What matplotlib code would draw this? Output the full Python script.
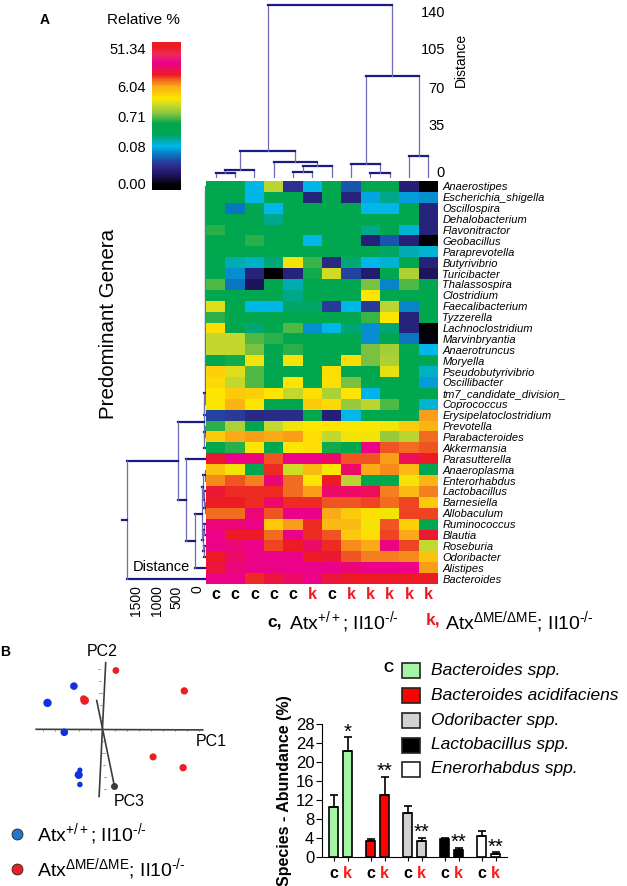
"""Three-panel microbiome figure: clustered heatmap (A), PCoA (B), bar chart (C)."""

import matplotlib
matplotlib.use("Agg")
import matplotlib.pyplot as plt
import numpy as np
from matplotlib.colors import LinearSegmentedColormap
from matplotlib.patches import Rectangle

W, H = 627, 886
FONT = "Liberation Sans"

plt.rcParams.update({
    "font.family": [FONT, "DejaVu Sans"],
    "mathtext.fontset": "custom",
    "mathtext.rm": FONT,
    "mathtext.it": f"{FONT}:italic",
    "mathtext.bf": f"{FONT}:bold",
    "mathtext.default": "regular",
})

# ---------------------------------------------------------------------------
# Data
# ---------------------------------------------------------------------------

GENERA = [
    "Anaerostipes", "Escherichia_shigella", "Oscillospira", "Dehalobacterium",
    "Flavonitractor", "Geobacillus", "Paraprevotella", "Butyrivibrio",
    "Turicibacter", "Thalassospira", "Clostridium", "Faecalibacterium",
    "Tyzzerella", "Lachnoclostridium", "Marvinbryantia", "Anaerotruncus",
    "Moryella", "Pseudobutyrivibrio", "Oscillibacter", "tm7_candidate_division_",
    "Coprococcus", "Erysipelatoclostridium", "Prevotella", "Parabacteroides",
    "Akkermansia", "Parasutterella", "Anaeroplasma", "Enterorhabdus",
    "Lactobacillus", "Barnesiella", "Allobaculum", "Ruminococcus", "Blautia",
    "Roseburia", "Odoribacter", "Alistipes", "Bacteroides",
]
SAMPLES = ["c", "c", "c", "c", "c", "k", "c", "k", "k", "k", "k", "k"]

# position on the colour bar, 0 (bottom) to 100 (top)
HEAT = [
    [42, 42, 30, 56, 17, 30, 42, 21, 42, 42, 13, 2],
    [42, 38, 30, 42, 42, 14, 42, 14, 28, 35, 27, 26],
    [42, 24, 42, 30, 42, 42, 42, 42, 30, 30, 42, 14],
    [42, 42, 42, 35, 42, 42, 42, 42, 42, 42, 42, 14],
    [47, 42, 42, 42, 42, 42, 42, 42, 35, 42, 31, 14],
    [42, 42, 47, 42, 42, 30, 38, 42, 13, 21, 13, 2],
    [42, 42, 42, 42, 42, 42, 42, 42, 42, 37, 33, 31],
    [42, 33, 32, 36, 61, 48, 15, 36, 30, 31, 42, 14],
    [40, 26, 14, 2, 14, 46, 58, 19, 12, 42, 55, 10],
    [49, 24, 10, 42, 33, 42, 42, 42, 51, 25, 49, 39],
    [42, 42, 42, 42, 35, 42, 39, 42, 62, 42, 42, 42],
    [59, 42, 30, 30, 37, 37, 18, 30, 18, 56, 25, 42],
    [47, 42, 41, 42, 42, 42, 42, 41, 48, 62, 14, 42],
    [63, 40, 36, 42, 49, 26, 30, 36, 26, 36, 14, 2],
    [57, 57, 49, 47, 42, 42, 42, 42, 26, 42, 24, 4],
    [57, 57, 51, 42, 47, 42, 42, 42, 51, 54, 45, 30],
    [42, 46, 61, 40, 61, 42, 42, 63, 51, 55, 42, 38],
    [65, 59, 49, 42, 42, 42, 63, 42, 42, 60, 42, 32],
    [64, 57, 49, 42, 62, 45, 63, 51, 42, 42, 42, 27],
    [62, 66, 65, 62, 57, 63, 55, 62, 29, 42, 42, 42],
    [62, 69, 62, 42, 42, 66, 64, 53, 56, 49, 42, 31],
    [19, 18, 15, 16, 16, 42, 13, 30, 42, 42, 45, 71],
    [47, 55, 42, 57, 61, 62, 62, 62, 62, 61, 66, 69],
    [66, 70, 71, 70, 71, 63, 57, 61, 61, 53, 56, 74],
    [42, 47, 62, 42, 62, 63, 46, 42, 86, 75, 74, 75],
    [79, 86, 84, 75, 86, 86, 83, 75, 75, 71, 82, 78],
    [67, 61, 42, 77, 58, 68, 62, 83, 70, 72, 68, 44],
    [72, 75, 73, 84, 74, 62, 78, 56, 42, 45, 61, 69],
    [79, 77, 77, 77, 74, 71, 83, 83, 82, 73, 68, 73],
    [78, 78, 77, 83, 77, 77, 75, 75, 76, 74, 76, 66],
    [74, 74, 84, 75, 86, 86, 70, 66, 63, 61, 76, 76],
    [84, 84, 86, 66, 71, 77, 68, 68, 61, 75, 65, 42],
    [86, 78, 78, 74, 86, 77, 75, 66, 63, 76, 70, 79],
    [86, 84, 86, 76, 78, 83, 77, 72, 70, 85, 76, 57],
    [78, 83, 86, 86, 86, 78, 79, 75, 73, 73, 72, 67],
    [80, 84, 86, 86, 86, 86, 86, 84, 86, 86, 86, 71],
    [86, 86, 77, 80, 83, 86, 80, 78, 78, 78, 78, 78],
]

CBAR_LABELS = ["51.34", "6.04", "0.71", "0.08", "0.00"]

# merges as (node a, node b, distance); new nodes are numbered after the leaves
TOP_MERGES = [
    (0, 1, 3.3), (12, 2, 6), (4, 5, 4.4), (14, 6, 10), (3, 15, 13), (13, 16, 23),
    (8, 9, 3.5), (7, 18, 11), (10, 11, 18.4), (19, 20, 88.6), (17, 21, 151),
]
TOP_TICKS = [3.5, 44.7, 77.2, 111.4, 143.9]
TOP_TICK_LABELS = ["0", "35", "70", "105", "140"]

ROW_CHAIN = [
    (0, 1, -192), (37, 2, -192), (38, 3, -191), (39, 4, -191), (40, 5, -191),
    (41, 6, -190), (42, 7, -190), (43, 8, -190), (44, 9, -189), (45, 10, -189),
    (46, 11, -189), (47, 12, -188), (48, 13, -188), (49, 14, -188), (50, 15, -187),
    (51, 16, -187), (52, 17, -187), (53, 18, -186), (54, 19, -186), (55, 20, -186),
]
ROW_MERGES = ROW_CHAIN + [
    (56, 21, -180), (22, 23, -185), (58, 24, -178), (57, 59, -170),
    (26, 27, -188), (29, 30, -188), (28, 62, -180), (61, 63, -160),
    (31, 32, -180), (33, 34, -175), (65, 66, -160), (64, 67, -116),
    (68, 35, 50), (25, 69, 280), (60, 70, 470), (71, 36, 1735),
]
ROW_TICKS = [0, 500, 1000, 1500]

BLUE_PC1 = [-4.6, -2.4, -3.2, -1.9, -2.0, -1.9]
BLUE_PC2 = [2.2, 3.6, -0.25, -3.4, -3.8, -4.6]
RED_PC1 = [1.1, 6.8, -1.6, -1.5, 4.2, 6.7]
RED_PC2 = [4.9, 3.2, 2.55, 2.4, -2.3, -3.2]

SPECIES = ["Bacteroides spp.", "Bacteroides acidifaciens", "Odoribacter spp.",
           "Lactobacillus spp.", "Enerorhabdus spp."]
CTRL_MEAN = [10.5, 3.4, 9.4, 3.8, 4.4]
CTRL_ERR = [2.5, 0.5, 1.4, 0.3, 1.2]
KO_MEAN = [22.4, 13.0, 3.4, 1.5, 0.7]
KO_ERR = [2.8, 3.9, 0.7, 0.5, 0.35]
KO_STARS = ["*", "**", "**", "**", "**"]
ABUND_TICKS = [0, 4, 8, 12, 16, 20, 24, 28]

# ---------------------------------------------------------------------------
# Styling
# ---------------------------------------------------------------------------

HEAT_CMAP = LinearSegmentedColormap.from_list("relative", [
    (0.00, "#000000"), (0.03, "#000000"), (0.10, "#1f1560"), (0.17, "#2e3192"),
    (0.235, "#0b72bd"), (0.295, "#00b9ee"), (0.34, "#00a99d"), (0.38, "#00a651"),
    (0.45, "#00a84f"), (0.52, "#8dc63f"), (0.57, "#c5d92e"), (0.62, "#fde600"),
    (0.70, "#fbae17"), (0.745, "#f26522"), (0.78, "#ed1c24"), (0.86, "#ec008c"),
    (0.92, "#ee2a5a"), (0.97, "#ed1c24"), (1.00, "#ed1c24"),
])
NAVY = "#1b1b80"
PALE_NAVY = "#6c6cb8"
KO_RED = "#ed1c24"
SPECIES_COLORS = ["#a6f5a6", "#ff0000", "#d2d2d2", "#000000", "#ffffff"]
RED_SIZES = [24, 28, 24, 38, 26, 28]
BLUE_SIZES = [36, 30, 30, 14, 34, 16]


def px_axes(fig, x0, y0, x1, y1):
    """Axes from pixel bounds, y counted from the top of the figure."""
    return fig.add_axes([x0 / W, 1 - y1 / H, (x1 - x0) / W, (y1 - y0) / H])


def draw_dendrogram(ax, n_leaves, merges, leaf_height, vertical_tree=True):
    """Draw U shaped merges; horizontal strokes come out heavier, as in the scan."""
    pos = {i: i + 0.5 for i in range(n_leaves)}
    hgt = {i: leaf_height for i in range(n_leaves)}
    for node, (a, b, dist) in enumerate(merges, start=n_leaves):
        if vertical_tree:
            ax.plot([pos[a], pos[a]], [hgt[a], dist], color=PALE_NAVY, lw=0.9)
            ax.plot([pos[b], pos[b]], [hgt[b], dist], color=PALE_NAVY, lw=0.9)
            ax.plot([pos[a], pos[b]], [dist, dist], color=NAVY, lw=1.6)
        else:
            ax.plot([hgt[a], dist], [pos[a], pos[a]], color=NAVY, lw=1.6)
            ax.plot([hgt[b], dist], [pos[b], pos[b]], color=NAVY, lw=1.6)
            ax.plot([dist, dist], [pos[a], pos[b]], color=PALE_NAVY, lw=0.9)
        pos[node] = (pos[a] + pos[b]) / 2
        hgt[node] = dist
    return pos[node], hgt[node]


fig = plt.figure(figsize=(W / 100, H / 100), dpi=100)

# ---------------------------------------------------------------------------
# Panel A
# ---------------------------------------------------------------------------

ax_heat = px_axes(fig, 206, 181, 438, 584)
ax_heat.imshow(HEAT, aspect="auto", cmap=HEAT_CMAP, vmin=0, vmax=100,
               extent=(0, 12, 37, 0), interpolation="nearest")
ax_heat.set_yticks(np.arange(len(GENERA)) + 0.5, GENERA, fontsize=8, style="italic")
ax_heat.yaxis.tick_right()
ax_heat.set_xticks(np.arange(len(SAMPLES)) + 0.5, SAMPLES, fontsize=11.5, fontweight="bold")
for label, sample in zip(ax_heat.get_xticklabels(), SAMPLES):
    label.set_color(KO_RED if sample == "k" else "black")
ax_heat.tick_params(length=0)
ax_heat.tick_params(axis="y", pad=3)
ax_heat.tick_params(axis="x", pad=2)
for spine in ax_heat.spines.values():
    spine.set_visible(False)

ax_top = px_axes(fig, 206, 0, 438, 178)
draw_dendrogram(ax_top, 12, TOP_MERGES, 0)
ax_top.set_xlim(0, 12)
ax_top.set_ylim(-0.9, 155.3)
ax_top.axis("off")
for tick, label in zip(TOP_TICKS, TOP_TICK_LABELS):
    ax_top.text(12.36, tick, label, ha="right", va="center", fontsize=10.5, clip_on=False)
ax_top.text(13.2, 103, "Distance", rotation=90, ha="center", va="center",
            fontsize=10, clip_on=False)

ax_left = px_axes(fig, 115, 181, 206, 584)
root_pos, root_hgt = draw_dendrogram(ax_left, 37, ROW_MERGES, -200, vertical_tree=False)
ax_left.plot([root_hgt, root_hgt + 115], [root_pos, root_pos], color=NAVY, lw=1.6)
ax_left.set_xlim(2025, -222)
ax_left.set_ylim(37, 0)
for spine in ax_left.spines.values():
    spine.set_visible(False)
ax_left.set_yticks([])
ax_left.set_xticks(ROW_TICKS, [str(t) for t in ROW_TICKS], rotation=90, fontsize=10)
ax_left.tick_params(axis="x", length=0, pad=1)
ax_left.patch.set_alpha(0)

ax_bar = px_axes(fig, 152, 42, 181, 190)
ax_bar.imshow(np.linspace(1, 0, 300).reshape(-1, 1), aspect="auto", cmap=HEAT_CMAP,
              vmin=0, vmax=1)
ax_bar.axis("off")

# ---------------------------------------------------------------------------
# Panel B
# ---------------------------------------------------------------------------

PC_UNIT = 12.0  # pixels per plotted unit
PC_X0, PC_Y0 = 102.7, 729.3
ax_pc = px_axes(fig, 25, 650, 205, 800)
ax_pc.set_xlim((25 - PC_X0) / PC_UNIT, (205 - PC_X0) / PC_UNIT)
ax_pc.set_ylim((PC_Y0 - 800) / PC_UNIT, (PC_Y0 - 650) / PC_UNIT)
ax_pc.axis("off")
ax_pc.plot([-5.55, 8.33], [0.0, -0.05], color="#3c3c3c", lw=1.2)
ax_pc.plot([0.25, -0.3], [5.55, -5.6], color="#3c3c3c", lw=1.2)
ax_pc.plot([-0.5, 0.97], [2.4, -4.7], color="#3c3c3c", lw=1.2)
ax_pc.scatter([0.97], [-4.7], s=16, color="#3c3c3c", zorder=3)
for t in np.arange(-5, 9):
    ax_pc.plot([t, t], [0.05, -0.1], color="#555555", lw=0.4)
for t in np.arange(-5, 6):
    ax_pc.plot([t * -0.05 - 0.12, t * -0.05 + 0.05], [t, t], color="#555555", lw=0.4)
ax_pc.scatter(BLUE_PC1, BLUE_PC2, s=BLUE_SIZES, color="#1230e0", zorder=4, linewidths=0)
ax_pc.scatter(RED_PC1, RED_PC2, s=RED_SIZES, color="#ee1c25", zorder=4, linewidths=0)

# ---------------------------------------------------------------------------
# Panel C
# ---------------------------------------------------------------------------

ax_c = px_axes(fig, 322, 724, 507, 857.3)
GROUP_STEP = 2.64
group_x = np.arange(len(SPECIES)) * GROUP_STEP + 0.84
tick_x, tick_labels = [], []
for i, color in enumerate(SPECIES_COLORS):
    x_c, x_k = group_x[i], group_x[i] + 1
    for x, mean, err in ((x_c, CTRL_MEAN[i], CTRL_ERR[i]), (x_k, KO_MEAN[i], KO_ERR[i])):
        ax_c.bar(x, mean, width=0.66, color=color, edgecolor="black", linewidth=1.2)
        ax_c.errorbar(x, mean, yerr=[[0], [err]], color="black", elinewidth=1.2,
                      capsize=2.6, capthick=1.2, clip_on=False)
    ax_c.text(x_k, KO_MEAN[i] + KO_ERR[i] + 1.1, KO_STARS[i], ha="center", va="center",
              fontsize=14.5, clip_on=False)
    tick_x += [x_c, x_k]
    tick_labels += ["c", "k"]
ax_c.set_xlim(0, 185 / 14)
ax_c.set_ylim(0, 28)
ax_c.set_yticks(ABUND_TICKS)
ax_c.set_xticks(tick_x, tick_labels, fontsize=11.5, fontweight="bold")
for label, name in zip(ax_c.get_xticklabels(), tick_labels):
    label.set_color("#ff1a1a" if name == "k" else "black")
ax_c.tick_params(axis="y", labelsize=12, length=4, width=0.8, pad=1.5)
ax_c.tick_params(axis="x", length=3, width=0.8, pad=3)
ax_c.spines[["top", "right"]].set_visible(False)
ax_c.spines[["left", "bottom"]].set_linewidth(0.8)
ax_c.set_ylabel("Species - Abundance (%)", fontsize=11.5, fontweight="bold")
ax_c.yaxis.set_label_coords(-0.162, 0.5)

# ---------------------------------------------------------------------------
# Free text and legends, in figure pixels
# ---------------------------------------------------------------------------

ax_px = fig.add_axes([0, 0, 1, 1], facecolor="none")
ax_px.set_xlim(0, W)
ax_px.set_ylim(H, 0)
ax_px.axis("off")

ax_px.text(45, 20, "A", fontsize=10, fontweight="bold", ha="center", va="center")
ax_px.text(5, 652, "B", fontsize=10, fontweight="bold", ha="center", va="center")
ax_px.text(388, 668, "C", fontsize=10, fontweight="bold", ha="center", va="center")
ax_px.text(143, 20, "Relative %", fontsize=11, ha="center", va="center")
for y, label in zip([50, 88, 118, 148, 185], CBAR_LABELS):
    ax_px.text(146, y, label, fontsize=10.5, ha="right", va="center")
ax_px.text(109, 324, "Predominant Genera", fontsize=14.8, rotation=90, ha="center", va="center")
ax_px.text(161, 567, "Distance", fontsize=10.5, ha="center", va="center")

ATX_WT = "Atx$^{+/+}$; Il10$^{\u2010/\u2010}$"
ATX_KO = "Atx$^{\u0394ME/\u0394ME}$; Il10$^{\u2010/\u2010}$"
ax_px.text(267, 622, "c,", fontsize=12.5, fontweight="bold", ha="left", va="center")
ax_px.text(289, 622, ATX_WT, fontsize=14, ha="left", va="center")
ax_px.text(426, 620, "k,", fontsize=12.5, fontweight="bold", color=KO_RED, ha="left", va="center")
ax_px.text(445, 622, ATX_KO, fontsize=14, ha="left", va="center")

ax_px.text(102, 652, "PC2", fontsize=11.5, ha="center", va="center")
ax_px.text(211, 742, "PC1", fontsize=11.5, ha="center", va="center")
ax_px.text(129, 801, "PC3", fontsize=11.5, ha="center", va="center")
ax_px.scatter([16.7], [834], s=62, color="#1f78c8", edgecolors="#222222", linewidths=0.6)
ax_px.scatter([16.7], [869], s=62, color="#e81f27", edgecolors="#222222", linewidths=0.6)
ax_px.text(37, 834, ATX_WT, fontsize=14, ha="left", va="center")
ax_px.text(37, 869, ATX_KO, fontsize=14, ha="left", va="center")

for y, name, color in zip([670, 695, 720, 745, 769], SPECIES, SPECIES_COLORS):
    ax_px.add_patch(Rectangle((402, y - 7.5), 18, 15, facecolor=color,
                              edgecolor="#222222", linewidth=1.2))
    ax_px.text(431, y, name, fontsize=12.5, style="italic", ha="left", va="center")

fig.savefig("out.png", dpi=100)
